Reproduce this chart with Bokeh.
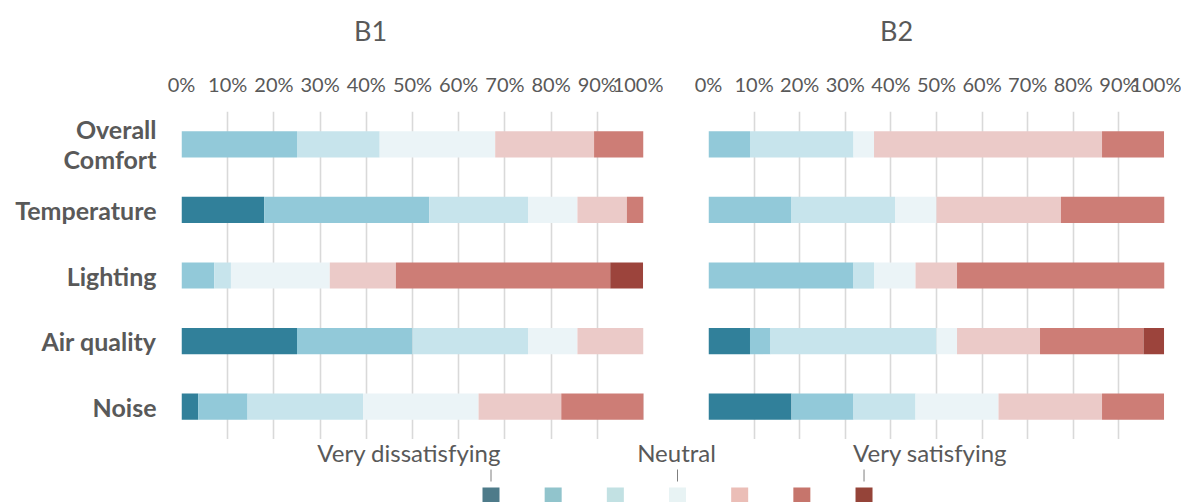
from bokeh.plotting import figure
from bokeh.layouts import row, column
from bokeh.models import (ColumnDataSource, FactorRange, Range1d, FixedTicker,
                          PrintfTickFormatter)
from bokeh.core.properties import value
from bokeh.embed import file_html
from bokeh.resources import INLINE

# ---------------- data ----------------
categories = ["Overall\nComfort", "Temperature", "Lighting", "Air quality", "Noise"]
levels = ["Very dissatisfying", "Dissatisfying", "Slightly dissatisfying", "Neutral",
          "Slightly satisfying", "Satisfying", "Very satisfying"]
keys = ["l1", "l2", "l3", "l4", "l5", "l6", "l7"]
panel_titles = ["B1", "B2"]

# B1 shares (%) per level, in category order
b1_l1 = [0, 17.9, 0, 25, 3.6]
b1_l2 = [25, 35.7, 7.1, 25, 10.7]
b1_l3 = [17.9, 21.4, 3.6, 25, 25]
b1_l4 = [25, 10.7, 21.4, 10.7, 25]
b1_l5 = [21.4, 10.7, 14.3, 14.3, 17.9]
b1_l6 = [10.7, 3.6, 46.4, 0, 17.9]
b1_l7 = [0, 0, 7.1, 0, 0]

# B2 shares (%)
b2_l1 = [0, 0, 0, 9.1, 18.2]
b2_l2 = [9.1, 18.2, 31.8, 4.5, 13.6]
b2_l3 = [22.7, 22.7, 4.5, 36.4, 13.6]
b2_l4 = [4.5, 9.1, 9.1, 4.5, 18.2]
b2_l5 = [50, 27.3, 9.1, 18.2, 22.7]
b2_l6 = [13.6, 22.7, 45.5, 22.7, 13.6]
b2_l7 = [0, 0, 0, 4.5, 0]

x_ticks = [0, 10, 20, 30, 40, 50, 60, 70, 80, 90, 100]
legend_pos = [0, 1, 2, 3, 4, 5, 6]
legend_marks = [0, 3, 6]

bar_colors = ["#31809A", "#92C9D9", "#C7E4EC", "#EBF4F7", "#EBCAC8", "#CD7D76", "#9C443C"]
legend_colors = ["#4E7B8A", "#91C4CC", "#C2E1E3", "#E8F3F4", "#EBBEB7", "#C6756C", "#954439"]

FONT = "Lato"
GRAY = "#595959"
HEAD_H = 50


def header(name, width, left, right, shift):
    h = figure(width=width, height=HEAD_H, output_backend="svg", toolbar_location=None,
               x_range=Range1d(0, 100), y_range=Range1d(0, 1),
               min_border_left=left, min_border_right=right,
               min_border_top=0, min_border_bottom=0)
    h.axis.visible = False
    h.grid.visible = False
    h.outline_line_color = None
    h.text(x=[50], y=[0.4], text=[name], x_offset=shift, text_align="center",
           text_baseline="middle", text_font=value(FONT), text_font_size="27px",
           text_color=GRAY)
    return h


def panel(series, width, left, right, show_y):
    src = ColumnDataSource(dict(cat=categories, **{k: v for k, v in zip(keys, series)}))
    p = figure(width=width, height=439 - HEAD_H, output_backend="svg", toolbar_location=None,
               y_range=FactorRange(*categories[::-1], range_padding=0),
               x_range=Range1d(0, 100), x_axis_location="above",
               min_border_left=left, min_border_right=right,
               min_border_top=111 - HEAD_H, min_border_bottom=0)
    p.hbar_stack(keys, y="cat", height=0.4, color=bar_colors, source=src,
                 line_color=None)
    p.outline_line_color = None
    p.background_fill_color = "white"
    p.border_fill_color = "white"
    ax = p.xaxis[0]
    ax.ticker = FixedTicker(ticks=x_ticks)
    ax.formatter = PrintfTickFormatter(format="%d%%")
    ax.axis_line_color = None
    ax.major_tick_line_color = None
    ax.minor_tick_line_color = None
    ax.major_label_standoff = 10
    ax.major_label_text_font = FONT
    ax.major_label_text_font_size = "20px"
    ax.major_label_text_color = GRAY
    ay = p.yaxis[0]
    ay.axis_line_color = None
    ay.major_tick_line_color = None
    ay.minor_tick_line_color = None
    ay.major_label_standoff = 19
    ay.major_label_text_font = FONT
    ay.major_label_text_font_size = "25px"
    ay.major_label_text_font_style = "bold"
    ay.major_label_text_color = GRAY
    ay.major_label_text_align = "right"
    ay.major_label_text_line_height = 1.0
    ay.visible = show_y
    p.ygrid.grid_line_color = None
    p.xgrid.ticker = FixedTicker(ticks=x_ticks)
    p.xgrid.grid_line_color = "#D9D9D9"
    p.xgrid.grid_line_width = 1.6
    return p


h1 = header(panel_titles[0], 663, 181, 20, -42)
h2 = header(panel_titles[1], 518, 45, 17, -40)
p1 = panel([b1_l1, b1_l2, b1_l3, b1_l4, b1_l5, b1_l6, b1_l7], 663, 181, 20, True)
p2 = panel([b2_l1, b2_l2, b2_l3, b2_l4, b2_l5, b2_l6, b2_l7], 518, 45, 17, False)

# ---------------- legend strip ----------------
px_per = 62.17
x0 = -490.5 / px_per
leg = figure(width=1181, height=63, output_backend="svg", toolbar_location=None,
             x_range=Range1d(x0, x0 + 1181 / px_per), y_range=Range1d(503, 440),
             min_border=0)
leg.axis.visible = False
leg.grid.visible = False
leg.outline_line_color = None
leg.rect(x=legend_pos, y=[496] * 7, width=17, height=16, width_units="screen",
         height_units="screen", fill_color=legend_colors, line_color=None)
leg.segment(x0=legend_marks, y0=[470] * 3, x1=legend_marks, y1=[482] * 3,
            line_color="#7F7F7F", line_width=1)
leg.text(x=[legend_marks[0]], y=[453], text=[levels[0]], x_offset=10,
         text_align="right", text_baseline="middle", text_font=value(FONT),
         text_font_size="24px", text_color=GRAY)
leg.text(x=[legend_marks[1]], y=[453], text=[levels[3]], x_offset=-1,
         text_align="center", text_baseline="middle", text_font=value(FONT),
         text_font_size="24px", text_color=GRAY)
leg.text(x=[legend_marks[2]], y=[453], text=[levels[6]], x_offset=-11,
         text_align="left", text_baseline="middle", text_font=value(FONT),
         text_font_size="24px", text_color=GRAY)

layout = column(row(h1, h2, spacing=0), row(p1, p2, spacing=0), leg, spacing=0)
open("out.html", "w").write(file_html(layout, INLINE))
